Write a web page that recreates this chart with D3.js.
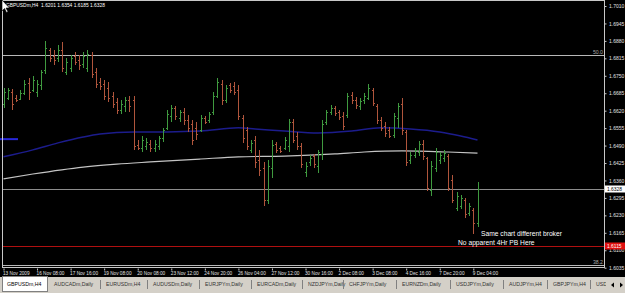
<!DOCTYPE html>
<html lang="en">
<head>
<meta charset="UTF-8">
<title>GBPUSDm,H4</title>
<script src="https://d3js.org/d3.v7.min.js"></script>
<style>
  html, body { margin: 0; padding: 0; background: #000; }
  svg { display: block; }
  text { font-family: 'Liberation Sans', Arial, sans-serif; }
</style>
</head>
<body>
<div id="chart"></div>
<script>
// --- data (H4 bars, 13 Nov - 9 Dec 2009) ---
const open = [
  1.6645,1.6667,1.6690,1.6667,1.6664,1.6686,1.6723,1.6697,1.6690,1.6716,
  1.6772,1.6846,1.6824,1.6816,1.6846,1.6764,1.6779,1.6824,1.6809,1.6794,
  1.6779,1.6828,1.6764,1.6727,1.6720,1.6705,1.6675,1.6652,1.6623,1.6638,
  1.6660,1.6660,1.6492,1.6481,1.6489,1.6496,1.6481,1.6489,1.6518,1.6556,
  1.6600,1.6630,1.6593,1.6615,1.6585,1.6571,1.6556,1.6548,1.6593,1.6585,
  1.6615,1.6675,1.6720,1.6660,1.6716,1.6712,1.6697,1.6593,1.6548,1.6474,
  1.6511,1.6436,1.6407,1.6287,1.6407,1.6496,1.6481,1.6481,1.6489,1.6578,
  1.6526,1.6489,1.6392,1.6429,1.6451,1.6414,1.6459,1.6578,1.6615,1.6630,
  1.6615,1.6600,1.6604,1.6679,1.6660,1.6638,1.6660,1.6667,1.6697,1.6638,
  1.6585,1.6563,1.6548,1.6530,1.6593,1.6645,1.6541,1.6436,1.6455,1.6466,
  1.6496,1.6444,1.6325,1.6407,1.6436,1.6444,1.6451,1.6362,1.6258,1.6265,
  1.6287,1.6239,1.6250,1.6201
];
const high = [
  1.6705,1.6705,1.6701,1.6679,1.6697,1.6734,1.6742,1.6749,1.6734,1.6772,
  1.6880,1.6854,1.6846,1.6865,1.6876,1.6816,1.6828,1.6839,1.6828,1.6839,
  1.6846,1.6839,1.6779,1.6742,1.6734,1.6727,1.6690,1.6667,1.6660,1.6671,
  1.6675,1.6675,1.6511,1.6526,1.6518,1.6511,1.6511,1.6526,1.6556,1.6623,
  1.6641,1.6638,1.6623,1.6630,1.6604,1.6585,1.6578,1.6604,1.6600,1.6615,
  1.6690,1.6742,1.6734,1.6716,1.6723,1.6727,1.6716,1.6604,1.6559,1.6511,
  1.6526,1.6474,1.6429,1.6436,1.6511,1.6503,1.6489,1.6522,1.6589,1.6589,
  1.6541,1.6500,1.6429,1.6455,1.6459,1.6474,1.6585,1.6623,1.6641,1.6638,
  1.6623,1.6615,1.6686,1.6690,1.6671,1.6667,1.6686,1.6720,1.6705,1.6645,
  1.6597,1.6578,1.6559,1.6612,1.6649,1.6667,1.6548,1.6466,1.6481,1.6507,
  1.6511,1.6448,1.6433,1.6481,1.6466,1.6474,1.6459,1.6381,1.6317,1.6306,
  1.6295,1.6276,1.6258,1.6354
];
const low = [
  1.6630,1.6660,1.6623,1.6652,1.6660,1.6679,1.6660,1.6690,1.6671,1.6697,
  1.6757,1.6801,1.6790,1.6801,1.6764,1.6753,1.6764,1.6790,1.6772,1.6779,
  1.6764,1.6742,1.6705,1.6697,1.6660,1.6652,1.6630,1.6608,1.6608,1.6615,
  1.6615,1.6474,1.6474,1.6466,1.6474,1.6466,1.6466,1.6474,1.6503,1.6548,
  1.6578,1.6585,1.6578,1.6567,1.6541,1.6492,1.6511,1.6541,1.6571,1.6574,
  1.6604,1.6667,1.6641,1.6649,1.6686,1.6679,1.6585,1.6500,1.6474,1.6462,
  1.6407,1.6377,1.6265,1.6273,1.6369,1.6462,1.6462,1.6474,1.6466,1.6500,
  1.6474,1.6407,1.6373,1.6414,1.6407,1.6388,1.6436,1.6567,1.6604,1.6600,
  1.6585,1.6548,1.6593,1.6645,1.6626,1.6623,1.6645,1.6660,1.6638,1.6571,
  1.6544,1.6522,1.6518,1.6518,1.6556,1.6530,1.6414,1.6421,1.6444,1.6451,
  1.6436,1.6321,1.6302,1.6392,1.6421,1.6429,1.6321,1.6276,1.6246,1.6254,
  1.6220,1.6228,1.6161,1.6185
];
const close = [
  1.6690,1.6697,1.6645,1.6660,1.6686,1.6720,1.6690,1.6734,1.6720,1.6764,
  1.6854,1.6816,1.6809,1.6846,1.6779,1.6801,1.6816,1.6801,1.6790,1.6824,
  1.6831,1.6757,1.6720,1.6712,1.6675,1.6667,1.6645,1.6623,1.6645,1.6660,
  1.6638,1.6489,1.6481,1.6511,1.6503,1.6481,1.6496,1.6518,1.6548,1.6608,
  1.6630,1.6600,1.6615,1.6585,1.6556,1.6511,1.6533,1.6593,1.6578,1.6608,
  1.6675,1.6727,1.6660,1.6705,1.6697,1.6690,1.6600,1.6518,1.6489,1.6500,
  1.6429,1.6399,1.6287,1.6414,1.6492,1.6474,1.6470,1.6511,1.6578,1.6511,
  1.6489,1.6421,1.6414,1.6444,1.6421,1.6466,1.6571,1.6615,1.6630,1.6612,
  1.6597,1.6563,1.6675,1.6660,1.6641,1.6656,1.6675,1.6705,1.6649,1.6585,
  1.6556,1.6537,1.6526,1.6600,1.6638,1.6548,1.6429,1.6455,1.6474,1.6496,
  1.6451,1.6332,1.6414,1.6466,1.6455,1.6462,1.6332,1.6287,1.6302,1.6295,
  1.6235,1.6265,1.6202,1.6328
];

// moving averages, sampled at bar indices
const blueMaIdx = [0,7,13,19,23,31,39,47,56,60,67,75,83,90,97,104,109,113];
const blueMa = [1.6448,1.6474,1.6500,1.6522,1.6533,1.6541,1.6541,1.6544,1.6556,1.6552,1.6544,1.6537,1.6544,1.6556,1.6552,1.6541,1.6526,1.6511];
const greyMaIdx = [0,7,19,27,35,47,56,67,79,86,95,106,113];
const greyMa = [1.6366,1.6384,1.6410,1.6421,1.6429,1.6440,1.6448,1.6451,1.6459,1.6466,1.6470,1.6466,1.6462];

const priceTicks = [1.7010,1.6945,1.6880,1.6815,1.6750,1.6685,1.6620,1.6555,1.6490,1.6425,1.6360,1.6295,1.6230,1.6165,1.6100,1.6035];
const timeLabels = ['13 Nov 2009','16 Nov 08:00','17 Nov 16:00','19 Nov 08:00','20 Nov 08:00','23 Nov 12:00','24 Nov 20:00',
  '26 Nov 04:00','27 Nov 12:00','30 Nov 16:00','2 Dec 08:00','3 Dec 08:00','4 Dec 16:00','7 Dec 20:00','9 Dec 04:00'];
const tabs = ['GBPUSDm,H4','AUDCADm,Daily','EURUSDm,H4','AUDUSDm,Daily','EURJPYm,Daily','EURCADm,Daily','NZDJPYm,Daily',
  'CHFJPYm,Daily','EURNZDm,Daily','USDJPYm,Daily','AUDJPYm,H4','GBPJPYm,H4','USD'];
const fibLevels = [{ label: '50.0', price: 1.6827 }, { label: '38.2', price: 1.6045 }];
const lastPrice = 1.6328;
const redLevel = 1.6115;
const blueMark = 1.6514;

const W = 625, H = 293;
const plotL = 2, plotR = 604, plotT = 1, plotB = 268;

const svg = d3.select('#chart').append('svg')
  .attr('width', W).attr('height', H);

svg.append('rect').attr('width', W).attr('height', H).attr('fill', '#000');

const bars = open.map((o, i) => ({ i, o, h: high[i], l: low[i], c: close[i] }));

const x = d3.scaleLinear().domain([0, 113]).range([3.5, 477.5]);
const y = d3.scaleLinear().domain([1.6035, 1.7010]).range([267.7, 6]);

// horizontal levels
const hline = (p, color, w) => svg.append('line')
  .attr('x1', plotL).attr('x2', plotR)
  .attr('y1', Math.round(y(p)) + 0.5).attr('y2', Math.round(y(p)) + 0.5)
  .attr('stroke', color).attr('stroke-width', w || 1);

fibLevels.forEach(f => {
  hline(f.price, '#b8b8b8');
  svg.append('text').attr('x', 603).attr('y', Math.round(y(f.price)) - 1.5)
    .attr('text-anchor', 'end').attr('fill', '#a8a8a8').attr('font-size', 5.2).text(f.label);
});
hline(lastPrice, '#8c8c8c');
hline(redLevel, '#b01010');

svg.append('line')
  .attr('x1', 0).attr('x2', 18)
  .attr('y1', y(blueMark)).attr('y2', y(blueMark))
  .attr('stroke', '#2828d8').attr('stroke-width', 2);

// moving averages
const line = d3.line().x(d => x(d[0])).y(d => y(d[1])).curve(d3.curveMonotoneX);
svg.append('path').datum(greyMaIdx.map((k, j) => [k, greyMa[j]]))
  .attr('d', line).attr('fill', 'none').attr('stroke', '#c4c4c4').attr('stroke-width', 1.2);
svg.append('path').datum(blueMaIdx.map((k, j) => [k, blueMa[j]]))
  .attr('d', line).attr('fill', 'none').attr('stroke', '#1c1c8c').attr('stroke-width', 1.5);

// OHLC bars
const up = '#3f9a3f', down = '#b0553c';
const g = svg.append('g').attr('shape-rendering', 'crispEdges');
const bar = g.selectAll('g.bar').data(bars).join('g')
  .attr('stroke', d => d.c >= d.o ? up : down);
bar.append('line')
  .attr('x1', d => Math.round(x(d.i)) + 0.5).attr('x2', d => Math.round(x(d.i)) + 0.5)
  .attr('y1', d => y(d.h)).attr('y2', d => y(d.l));
bar.append('line')
  .attr('x1', d => Math.round(x(d.i)) - 1).attr('x2', d => Math.round(x(d.i)))
  .attr('y1', d => Math.round(y(d.o)) + 0.5).attr('y2', d => Math.round(y(d.o)) + 0.5);
bar.append('line')
  .attr('x1', d => Math.round(x(d.i)) + 1).attr('x2', d => Math.round(x(d.i)) + 2)
  .attr('y1', d => Math.round(y(d.c)) + 0.5).attr('y2', d => Math.round(y(d.c)) + 0.5);

// frame
svg.append('rect')
  .attr('x', plotL + 0.5).attr('y', plotT - 0.5)
  .attr('width', plotR - plotL).attr('height', plotB - plotT)
  .attr('fill', 'none').attr('stroke', '#c8c8c8').attr('shape-rendering', 'crispEdges');

// price axis
const yAxis = svg.append('g')
  .attr('transform', `translate(${plotR + 0.5},0)`)
  .call(d3.axisRight(y).tickValues(priceTicks).tickFormat(d3.format('.4f')).tickSize(2).tickPadding(2.5));
yAxis.select('.domain').remove();
yAxis.selectAll('line').attr('stroke', '#c8c8c8');
yAxis.selectAll('text').attr('fill', '#e0e0e0').attr('font-size', 5)
  .attr('font-family', "'Liberation Sans', Arial, sans-serif");

// time axis
const xAxis = svg.append('g')
  .attr('transform', `translate(0,${plotB + 0.5})`)
  .call(d3.axisBottom(x).tickValues(timeLabels.map((t, k) => k * 8))
    .tickFormat((d, k) => timeLabels[k]).tickSize(2).tickPadding(1));
xAxis.select('.domain').remove();
xAxis.selectAll('line').attr('stroke', '#c8c8c8');
xAxis.selectAll('text').attr('fill', '#e0e0e0').attr('font-size', 4.7)
  .attr('text-anchor', 'start').attr('dx', -1)
  .attr('font-family', "'Liberation Sans', Arial, sans-serif");

// price boxes on the axis
const box = (p, fill, color) => {
  const yy = Math.round(y(p));
  svg.append('rect').attr('x', 605).attr('y', yy - 3.5).attr('width', 20).attr('height', 7).attr('fill', fill);
  svg.append('text').attr('x', 607).attr('y', yy + 1.8).attr('fill', color)
    .attr('font-size', 4.9).text(d3.format('.4f')(p));
};
box(lastPrice, '#ffffff', '#000');
box(redLevel, '#e01010', '#fff');

// header + annotations
svg.append('text').attr('x', 6).attr('y', 7).attr('fill', '#fff').attr('font-size', 4.9)
  .attr('xml:space', 'preserve')
  .text(`GBPUSDm,H4  ${open[113].toFixed(4)} ${high[113].toFixed(4)} ${low[113].toFixed(4)} ${close[113].toFixed(4)}`);
svg.append('path').attr('d', 'M2,0 L2,11 L4.5,8.5 L6.5,12.5 L8,11.8 L6,8 L9.5,8 Z')
  .attr('fill', '#fff').attr('stroke', '#000').attr('stroke-width', 0.6);

svg.append('text').attr('x', 481).attr('y', 236).attr('fill', '#fff').attr('font-size', 6.7)
  .text('Same chart different broker');
svg.append('text').attr('x', 458).attr('y', 245).attr('fill', '#fff').attr('font-size', 6.7)
  .text('No apparent 4Hr PB Here');

// tab bar
const tabY = 277;
svg.append('rect').attr('x', 0).attr('y', tabY).attr('width', W).attr('height', H - tabY).attr('fill', '#d4d0c8');
const tabX = [2, 50, 102, 149, 201, 253, 304, 345, 398, 452, 505, 549, 592];
svg.append('rect').attr('x', 2.5).attr('y', tabY - 0.5).attr('width', 45).attr('height', 15)
  .attr('fill', '#fff').attr('stroke', '#808080').attr('shape-rendering', 'crispEdges');
tabs.forEach((t, k) => {
  svg.append('text').attr('x', k === 0 ? 7 : tabX[k] + 4).attr('y', 286)
    .attr('fill', k === 0 ? '#000' : '#333').attr('font-size', 5.2).text(t);
  if (k > 1) {
    svg.append('line').attr('x1', tabX[k] - 1.5).attr('x2', tabX[k] - 1.5)
      .attr('y1', 280).attr('y2', 289).attr('stroke', '#808080');
  }
});
svg.append('rect').attr('x', 606).attr('y', 278).attr('width', 19).attr('height', 14).attr('fill', '#d4d0c8');
svg.append('path').attr('d', 'M614,282.5 L611,285 L614,287.5 Z').attr('fill', '#000');
svg.append('path').attr('d', 'M620,282.5 L623,285 L620,287.5 Z').attr('fill', '#000');
</script>
</body>
</html>
